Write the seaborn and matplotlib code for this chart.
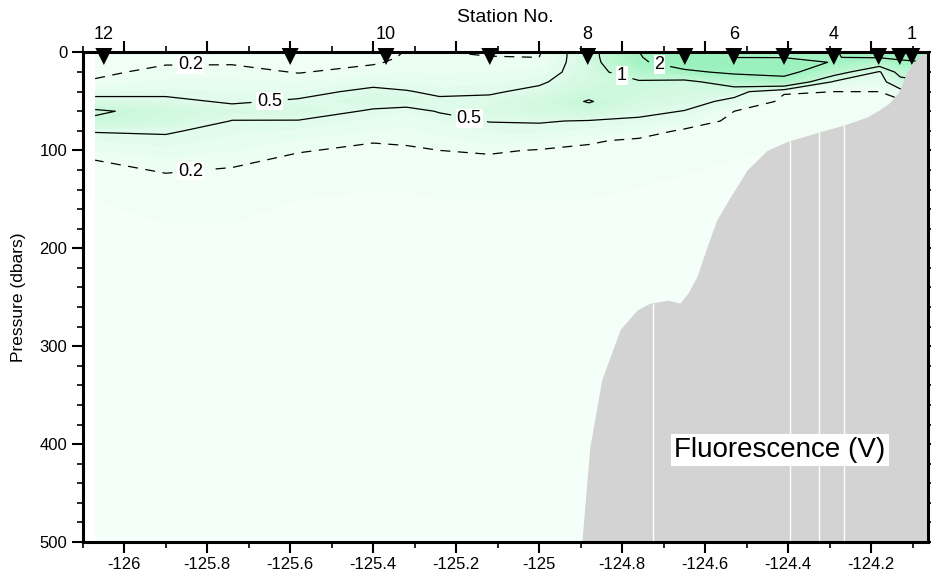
import numpy as np
import matplotlib
matplotlib.use("Agg")
import matplotlib.pyplot as plt
import seaborn as sns
from matplotlib.colors import LinearSegmentedColormap
from matplotlib.ticker import MultipleLocator, FuncFormatter
from matplotlib.transforms import offset_copy

# ---------------- data ----------------
# longitudes of the gridded fluorescence profiles (west -> east)
cast_lon = [-126.07, -125.90, -125.74, -125.58, -125.40, -125.32, -125.24, -125.12, -125.00,
            -124.88, -124.76, -124.65, -124.53, -124.41, -124.29, -124.18, -124.13, -124.06]
# pressure levels (dbar) of each profile
pressure = [0, 5, 10, 20, 30, 40, 50, 60, 70, 80, 90, 100, 110, 125, 150, 200, 500]
# fluorescence (V), one profile per cast longitude, values at the pressure levels above
fluorescence = [
    [0.10, 0.11, 0.12, 0.16, 0.22, 0.38, 0.62, 1.08, 0.90, 0.52, 0.40, 0.30, 0.20, 0.15, 0.10, 0.07, 0.03],
    [0.12, 0.15, 0.18, 0.25, 0.32, 0.42, 0.58, 0.80, 0.75, 0.53, 0.45, 0.36, 0.28, 0.19, 0.12, 0.08, 0.03],
    [0.12, 0.15, 0.18, 0.26, 0.33, 0.40, 0.46, 0.62, 0.49, 0.42, 0.36, 0.30, 0.23, 0.17, 0.12, 0.08, 0.03],
    [0.10, 0.12, 0.14, 0.19, 0.28, 0.40, 0.54, 0.70, 0.48, 0.38, 0.29, 0.21, 0.17, 0.14, 0.10, 0.07, 0.03],
    [0.13, 0.15, 0.18, 0.26, 0.40, 0.58, 0.66, 0.45, 0.37, 0.30, 0.21, 0.17, 0.14, 0.12, 0.09, 0.07, 0.03],
    [0.21, 0.22, 0.24, 0.29, 0.38, 0.52, 0.64, 0.40, 0.34, 0.28, 0.22, 0.18, 0.15, 0.12, 0.09, 0.07, 0.03],
    [0.21, 0.22, 0.24, 0.28, 0.34, 0.44, 0.56, 0.52, 0.40, 0.33, 0.26, 0.20, 0.16, 0.13, 0.10, 0.07, 0.03],
    [0.17, 0.21, 0.24, 0.30, 0.37, 0.46, 0.58, 0.62, 0.51, 0.42, 0.33, 0.22, 0.17, 0.13, 0.10, 0.07, 0.03],
    [0.18, 0.20, 0.24, 0.33, 0.45, 0.58, 0.75, 0.72, 0.52, 0.43, 0.30, 0.19, 0.15, 0.12, 0.10, 0.07, 0.03],
    [0.75, 0.74, 0.72, 0.70, 0.72, 0.85, 1.03, 0.82, 0.48, 0.36, 0.22, 0.17, 0.14, 0.12, 0.10, 0.07, 0.03],
    [1.99, 1.95, 1.88, 1.45, 0.92, 0.80, 0.70, 0.58, 0.45, 0.30, 0.17, 0.14, 0.12, 0.11, 0.09, 0.07, 0.03],
    [2.50, 2.50, 2.40, 1.85, 0.80, 0.72, 0.62, 0.49, 0.33, 0.17, 0.14, 0.12, 0.11, 0.10, 0.08, 0.06, 0.03],
    [1.98, 1.99, 2.40, 2.15, 1.40, 0.62, 0.42, 0.20, 0.15, 0.13, 0.12, 0.11, 0.10, 0.09, 0.08, 0.06, 0.03],
    [1.85, 1.98, 2.35, 2.30, 1.60, 0.22, 0.15, 0.13, 0.12, 0.11, 0.10, 0.10, 0.09, 0.08, 0.07, 0.06, 0.03],
    [1.95, 1.99, 1.95, 1.30, 0.45, 0.20, 0.15, 0.13, 0.12, 0.11, 0.10, 0.10, 0.09, 0.08, 0.07, 0.06, 0.03],
    [2.40, 2.05, 1.40, 0.45, 0.35, 0.20, 0.17, 0.15, 0.13, 0.12, 0.11, 0.10, 0.09, 0.08, 0.07, 0.06, 0.03],
    [2.30, 2.10, 1.90, 1.20, 0.80, 0.38, 0.15, 0.13, 0.12, 0.11, 0.10, 0.10, 0.09, 0.08, 0.07, 0.06, 0.03],
    [2.50, 2.20, 2.00, 1.50, 1.00, 0.50, 0.20, 0.15, 0.12, 0.11, 0.10, 0.10, 0.09, 0.08, 0.07, 0.06, 0.03],
]

station_no = [12, 11, 10, 9, 8, 7, 6, 5, 4, 3, 2, 1]
station_lon = [-126.049, -125.600, -125.369, -125.119, -124.883, -124.649,
               -124.531, -124.410, -124.290, -124.182, -124.131, -124.102]
labeled_stations = [12, 10, 8, 6, 4, 1]

bathy_lon = [-124.897, -124.878, -124.849, -124.829, -124.805, -124.764, -124.733, -124.689,
             -124.661, -124.642, -124.620, -124.596, -124.572, -124.540, -124.499, -124.451,
             -124.403, -124.323, -124.265, -124.210, -124.182, -124.157, -124.133, -124.114,
             -124.085, -124.060]
bathy_p = [500, 403, 334, 311, 283, 263, 256, 253, 256, 246, 229, 199, 171, 148, 120, 100,
           91, 81, 74, 66, 59, 52, 40, 20, 3, 0]
seam_lon = [-124.726, -124.395, -124.326, -124.265]

contour_levels = [0.2, 0.5, 1, 2]
label_pos = [(-125.84, 14), (-125.84, 121), (-125.65, 47), (-125.17, 70),
             (-124.80, 23), (-124.71, 12)]

# ---------------- style ----------------
sns.set_theme(style="ticks")
plt.rcParams['font.family'] = ['Liberation Sans', 'DejaVu Sans']
plt.rcParams['axes.unicode_minus'] = False
plt.rcParams['lines.dashed_pattern'] = [8, 6]
for key in ['text.color', 'axes.labelcolor', 'xtick.color', 'ytick.color',
            'xtick.labelcolor', 'ytick.labelcolor']:
    plt.rcParams[key] = 'black'

fig = plt.figure(figsize=(9.31, 5.80), dpi=100)
ax = fig.add_axes([0.0888, 0.0655, 0.9080, 0.8440])

Z = np.array(fluorescence).T

cmap = LinearSegmentedColormap.from_list(
    "fluor",
    [(0.0, "#f4fff9"), (0.2 / 3, "#effef4"), (0.5 / 3, "#dffbe9"),
     (1.0 / 3, "#c8f8d9"), (2.0 / 3, "#a2f3c2"), (1.0, "#8ceeb3")])

ax.contourf(cast_lon, pressure, Z, levels=np.linspace(0, 3, 31), cmap=cmap,
            extend='max', zorder=1)
cs = ax.contour(cast_lon, pressure, Z, levels=contour_levels, colors='black',
                linewidths=0.9, linestyles=['--', '-', '-', '-'], zorder=2)
labels = ax.clabel(cs, levels=contour_levels, manual=label_pos, inline=True,
                   inline_spacing=6, fontsize=13, fmt=lambda v: f"{v:g}",
                   colors='black')
for t in labels:
    t.set_rotation(0)
    t.set_bbox(dict(boxstyle="square,pad=0.05", fc="white", ec="none"))

# bathymetry
ax.fill_between(bathy_lon, bathy_p, 500, color="#d3d3d3", lw=0, zorder=3)
ax.vlines(seam_lon, np.interp(seam_lon, bathy_lon, bathy_p), 500,
          colors="white", lw=1.0, zorder=3.5)

# station markers
sns.scatterplot(x=station_lon, y=np.zeros(len(station_lon)), marker='v', s=150,
                color='black', edgecolor='none', ax=ax, clip_on=False,
                zorder=6, legend=False)
ax.collections[-1].set_offset_transform(
    offset_copy(ax.transData, fig=fig, x=0, y=-4, units='dots'))
for lon, no in zip(station_lon, station_no):
    if no in labeled_stations:
        ax.annotate(str(no), (lon, 0), xytext=(0, 12.8), textcoords='offset points',
                    ha='center', va='center', fontsize=13, color='black',
                    annotation_clip=False)

fig.text(505 / 931, 1 - 17.5 / 580, "Station No.", ha='center', va='center',
         fontsize=14, color='black')

ax.text(0.825, 0.188, "Fluorescence (V)", transform=ax.transAxes, ha='center',
        va='center', fontsize=20, zorder=7, color='black',
        bbox=dict(boxstyle="square,pad=0.12", fc="white", ec="none"))

# axes
ax.set_xlim(-126.1, -124.063)
ax.set_ylim(500, 0)
ax.xaxis.set_major_locator(MultipleLocator(0.2))
ax.xaxis.set_minor_locator(MultipleLocator(0.1))
ax.xaxis.set_major_formatter(FuncFormatter(lambda v, p: f"{round(v, 1):g}"))
ax.yaxis.set_major_locator(MultipleLocator(100))
ax.yaxis.set_minor_locator(MultipleLocator(20))
ax.tick_params(which='major', length=8, width=1.5, direction='out', top=True,
               right=True, labeltop=False, labelright=False, labelsize=12, pad=3,
               color='black', labelcolor='black')
ax.tick_params(which='minor', length=4.5, width=1.2, direction='out', top=True,
               right=True, color='black')
for sp in ax.spines.values():
    sp.set_linewidth(2.2)
    sp.set_color('black')
    sp.set_zorder(8)
ax.set_ylabel("Pressure (dbars)", fontsize=12.5, color='black')
ax.yaxis.set_label_coords(-0.0665, 0.5)
ax.set_xlabel("")

fig.savefig("out.png", dpi=100, facecolor="white")
